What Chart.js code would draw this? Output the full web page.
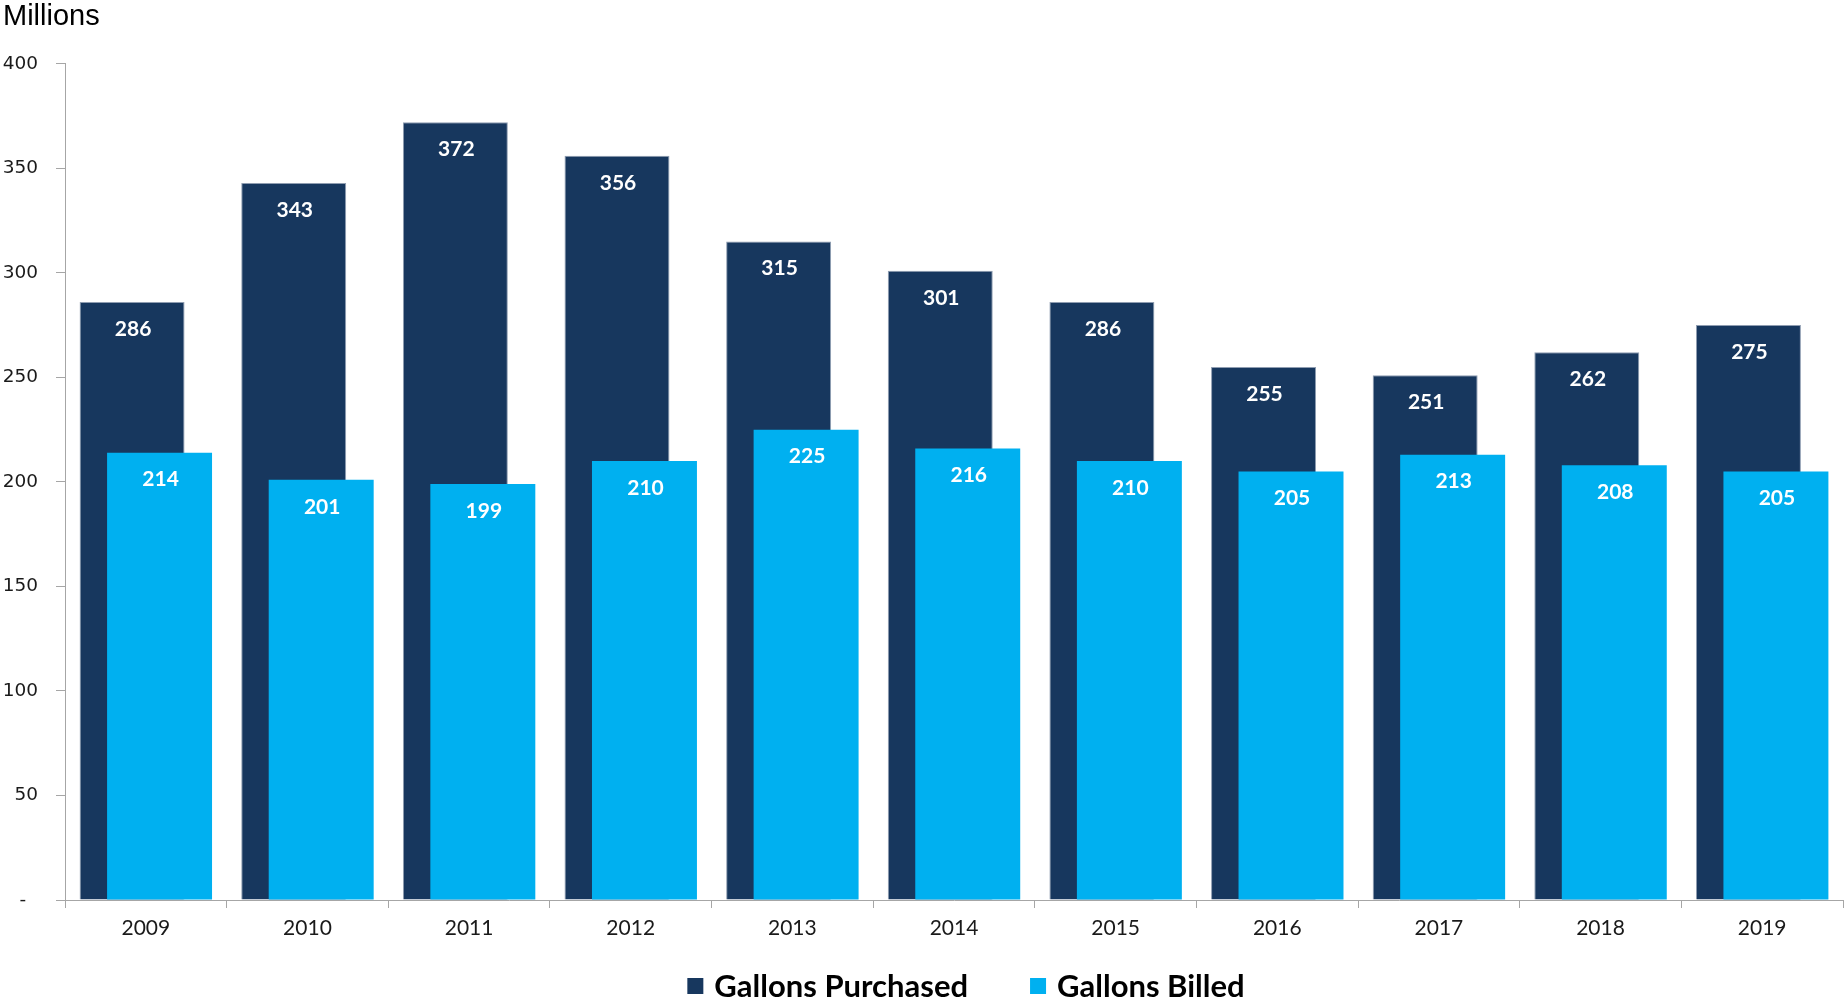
<!DOCTYPE html>
<html lang="en">

<head>
    <meta charset="UTF-8">
    <title>Gallons Purchased vs Gallons Billed</title>
    <script src="https://cdn.jsdelivr.net/npm/chart.js@4.4.1/dist/chart.umd.min.js"></script>
    <style>
        body { margin: 0; background: #fff; }
        #wrap { width: 1845px; height: 1004px; }
    </style>
</head>

<body>

    <div id="wrap"><canvas id="gallonschart"></canvas></div>

    <script>
        const years = ['2009', '2010', '2011', '2012', '2013', '2014', '2015', '2016', '2017', '2018', '2019'];
        const purchased = [286, 343, 372, 356, 315, 301, 286, 255, 251, 262, 275];
        const billed = [214, 201, 199, 210, 225, 216, 210, 205, 213, 208, 205];
        const seriesNames = ['Gallons Purchased', 'Gallons Billed'];

        // the billed bars sit over the purchased ones, so paint in dataset order
        const paintOrder = {
            id: 'paintOrder',
            beforeDatasetsDraw(chart) {
                chart.getSortedVisibleDatasetMetas().forEach(meta => meta.controller.draw());
                return false;
            }
        };

        // white value labels just under the top of every bar
        const barLabels = {
            id: 'barLabels',
            afterDraw(chart) {
                const ctx = chart.ctx;
                ctx.save();
                ctx.font = 'bold 21px Lato';
                ctx.fillStyle = '#ffffff';
                ctx.textAlign = 'center';
                ctx.textBaseline = 'middle';
                chart.data.datasets.forEach((ds, i) => {
                    chart.getDatasetMeta(i).data.forEach((bar, j) => {
                        ctx.fillText(ds.data[j], bar.x + 1, bar.y + 27);
                    });
                });
                ctx.restore();
            }
        };

        // legend row under the axis, wider gap between items than chartjs legend allows
        const legendRow = {
            id: 'legendRow',
            afterDraw(chart) {
                const ctx = chart.ctx;
                const area = chart.chartArea;
                const y = area.bottom + 86;
                const box = 16, gap = 11, spacing = 62;
                ctx.save();
                ctx.font = 'bold 31px Lato';
                ctx.textBaseline = 'middle';
                const items = chart.data.datasets.map(ds => ({
                    text: ds.label,
                    color: ds.backgroundColor,
                    w: ctx.measureText(ds.label).width
                }));
                const total = items.reduce((s, it) => s + box + gap + it.w, 0) + spacing * (items.length - 1);
                let x = (area.left + area.right) / 2 - total / 2 + 12;
                items.forEach(it => {
                    ctx.fillStyle = it.color;
                    ctx.fillRect(x, y - box / 2, box, box);
                    ctx.fillStyle = '#000';
                    ctx.fillText(it.text, x + box + gap, y + 1);
                    x += box + gap + it.w + spacing;
                });
                ctx.restore();
            }
        };

        const ctx = document.getElementById('gallonschart').getContext('2d');
        const gallonsChart = new Chart(ctx, {
            type: 'bar',
            data: {
                labels: years,
                datasets: [{
                    label: seriesNames[0],
                    data: purchased,
                    backgroundColor: '#17375E',
                    borderColor: '#8f9db1',
                    borderWidth: 1,
                    categoryPercentage: 0.34,
                    barPercentage: 3.82
                }, {
                    label: seriesNames[1],
                    data: billed,
                    backgroundColor: '#00B0F0',
                    borderWidth: 0,
                    categoryPercentage: 0.34,
                    barPercentage: 3.82
                }]
            },
            options: {
                responsive: true,
                maintainAspectRatio: false,
                animation: false,
                layout: { padding: { left: 3, right: 2, top: 0, bottom: 60 } },
                plugins: {
                    title: {
                        display: true,
                        text: 'Millions',
                        align: 'start',
                        color: '#000',
                        font: { family: 'Liberation Sans', size: 29, weight: 'normal' },
                        padding: { top: 0, bottom: 29 }
                    },
                    legend: { display: false },
                    tooltip: { enabled: false }
                },
                scales: {
                    x: {
                        border: { color: '#a6a6a6', width: 1 },
                        grid: { drawOnChartArea: false, tickLength: 8, color: '#a6a6a6' },
                        ticks: { color: '#1a1a1a', font: { family: 'Lato', size: 21 }, padding: 8 },
                        afterFit(scale) { scale.height = 44; }
                    },
                    y: {
                        min: 0,
                        max: 400,
                        border: { color: '#a6a6a6', width: 1 },
                        grid: { drawOnChartArea: false, tickLength: 9, color: '#a6a6a6' },
                        ticks: {
                            stepSize: 50,
                            color: '#1a1a1a',
                            padding: 18,
                            font: { family: 'DejaVu Sans', size: 18.5 },
                            callback: v => v === 0 ? '-  ' : v
                        },
                        afterFit(scale) { scale.width = 62; }
                    }
                }
            },
            plugins: [paintOrder, barLabels, legendRow]
        });
    </script>

</body>

</html>
